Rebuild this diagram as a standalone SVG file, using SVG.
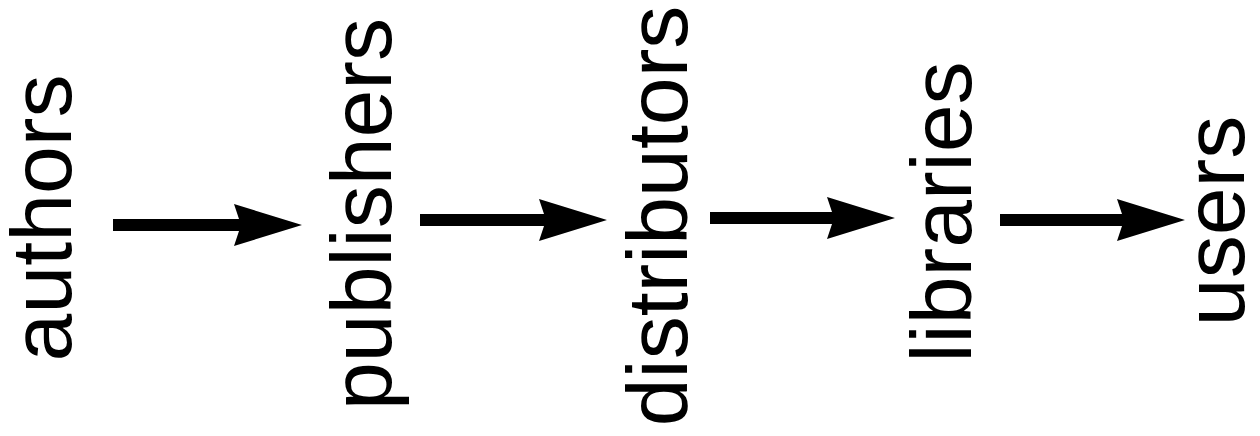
<svg xmlns="http://www.w3.org/2000/svg" width="1260" height="436" viewBox="0 0 1260 436">
<style>
.lbl{font-family:"Liberation Sans",Arial,Helvetica,sans-serif;font-size:86px;fill:#000;text-anchor:middle}
.conn{stroke:#000;stroke-width:12;fill:none}
</style>
<defs>
<marker id="ah" markerUnits="userSpaceOnUse" viewBox="-68 -21 68 42" markerWidth="68" markerHeight="42" refX="-61" refY="0" orient="auto" overflow="visible">
<path d="M0,0 L-68,-21 L-61,0 L-68,21 Z" fill="#000"/>
</marker>
</defs>
<rect width="1260" height="436" fill="#fff"/>
<g id="authors"><text class="lbl" transform="translate(71,218) rotate(-90)">authors</text></g>
<g id="publishers"><text class="lbl" transform="translate(391,214) rotate(-90)">publishers</text></g>
<g id="distributors"><text class="lbl" transform="translate(687,216) rotate(-90)">distributors</text></g>
<g id="libraries"><text class="lbl" transform="translate(971,212) rotate(-90)">libraries</text></g>
<g id="users"><text class="lbl" transform="translate(1244,221) rotate(-90)">users</text></g>
<g id="connectors">
<line class="conn" x1="113" y1="225" x2="241" y2="225" marker-end="url(#ah)"/>
<line class="conn" x1="420" y1="220" x2="546" y2="220" marker-end="url(#ah)"/>
<line class="conn" x1="710" y1="218" x2="834" y2="218" marker-end="url(#ah)"/>
<line class="conn" x1="1000" y1="220" x2="1124" y2="220" marker-end="url(#ah)"/>
</g>
</svg>
